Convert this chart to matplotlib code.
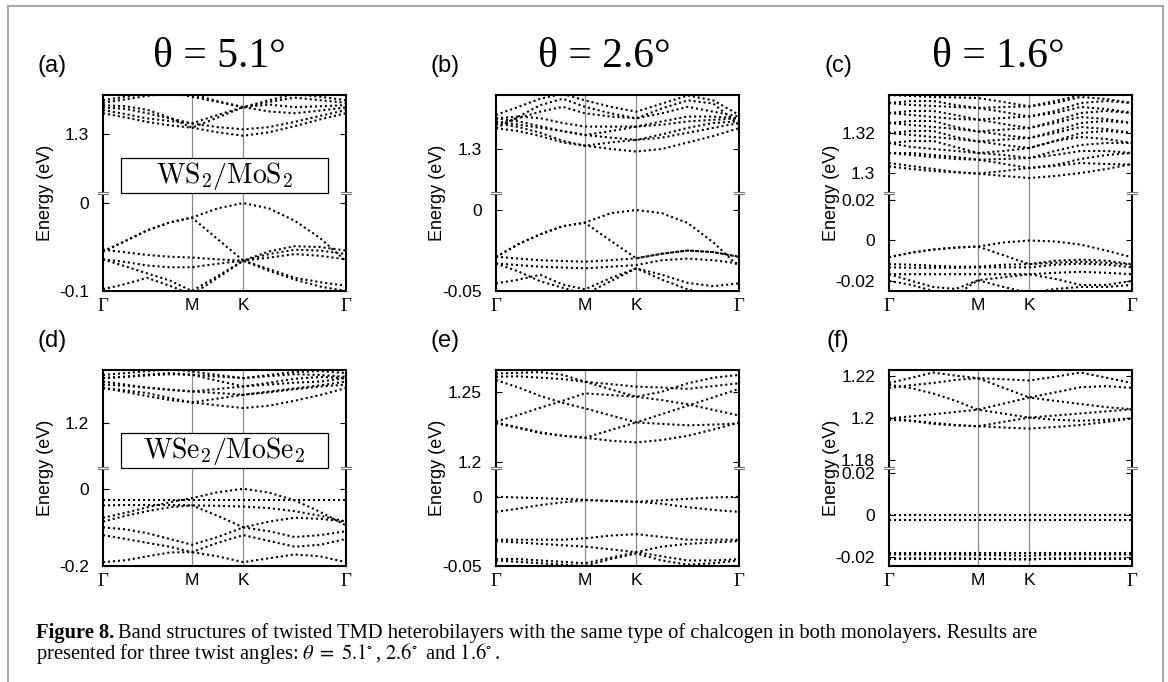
import matplotlib
matplotlib.use("Agg")
import matplotlib.pyplot as plt
from matplotlib.patches import Rectangle
from matplotlib.lines import Line2D

plt.rcParams["axes.unicode_minus"] = False

# k-path Gamma-M-K-Gamma (|GM| : |MK| : |KG| = sqrt3/2 : 1/2 : 1)
K_NODES = [0.0, 0.22, 0.43, 0.65, 0.866, 1.116, 1.366, 1.616, 1.866, 2.116, 2.366]
K_TICKS = [0.0, 0.866, 1.366, 2.366]
K_LABELS = ["Γ", "M", "K", "Γ"]
ANGLES = ["θ = 5.1°", "θ = 2.6°", "θ = 1.6°"]
TAGS = ["(a)", "(b)", "(c)", "(d)", "(e)", "(f)"]
MATERIALS = [r"$\mathrm{WS_2/MoS_2}$", r"$\mathrm{WSe_2/MoSe_2}$"]

# energies (eV) of the bands at K_NODES
A_COND = [
    [1.324, 1.319, 1.314, 1.310, 1.3073, 1.302, 1.298, 1.302, 1.309, 1.317, 1.324],
    [1.3276, 1.323, 1.318, 1.315, 1.3123, 1.308, 1.3054, 1.308, 1.314, 1.321, 1.3276],
    [1.3307, 1.329, 1.324, 1.318, 1.3123, 1.322, 1.331, 1.326, 1.324, 1.327, 1.3307],
    [1.3333, 1.332, 1.328, 1.319, 1.3073, 1.319, 1.331, 1.334, 1.331, 1.332, 1.3333],
    [1.336, 1.340, 1.344, 1.347, 1.346, 1.338, 1.331, 1.337, 1.342, 1.339, 1.336],
    [1.339, 1.343, 1.347, 1.348, 1.343, 1.337, 1.331, 1.339, 1.346, 1.343, 1.339],
]
A_VAL = [
    [-0.055, -0.043, -0.031, -0.022, -0.0165, -0.006, 0.0, -0.006, -0.020, -0.040, -0.066],
    [-0.055, -0.043, -0.031, -0.022, -0.0165, -0.041, -0.0655, -0.055, -0.049, -0.050, -0.054],
    [-0.053, -0.056, -0.059, -0.061, -0.062, -0.064, -0.0655, -0.058, -0.053, -0.054, -0.058],
    [-0.064, -0.067, -0.071, -0.073, -0.073, -0.069, -0.0655, -0.062, -0.058, -0.060, -0.064],
    [-0.064, -0.072, -0.080, -0.088, -0.100, -0.083, -0.0655, -0.077, -0.087, -0.095, -0.100],
    [-0.098, -0.092, -0.085, -0.094, -0.104, -0.085, -0.0655, -0.075, -0.085, -0.090, -0.094],
]
B_COND = [
    [1.3128, 1.311, 1.308, 1.304, 1.302, 1.300, 1.2984, 1.300, 1.304, 1.308, 1.3128],
    [1.3160, 1.3135, 1.310, 1.305, 1.302, 1.304, 1.3056, 1.307, 1.310, 1.313, 1.3160],
    [1.3170, 1.315, 1.313, 1.311, 1.3086, 1.307, 1.3056, 1.309, 1.313, 1.316, 1.3170],
    [1.3189, 1.317, 1.314, 1.311, 1.3086, 1.311, 1.3138, 1.315, 1.317, 1.318, 1.3189],
    [1.3189, 1.320, 1.319, 1.316, 1.3138, 1.3138, 1.3138, 1.317, 1.320, 1.320, 1.3189],
    [1.3150, 1.319, 1.323, 1.326, 1.322, 1.320, 1.3189, 1.322, 1.326, 1.323, 1.3200],
    [1.3128, 1.320, 1.327, 1.331, 1.326, 1.322, 1.3189, 1.325, 1.330, 1.328, 1.3150],
    [1.3210, 1.326, 1.331, 1.334, 1.330, 1.326, 1.323, 1.328, 1.333, 1.330, 1.3210],
]
B_VAL = [
    [-0.029, -0.021, -0.015, -0.010, -0.0078, -0.002, 0.0, -0.002, -0.008, -0.020, -0.035],
    [-0.029, -0.021, -0.015, -0.010, -0.0078, -0.019, -0.0298, -0.027, -0.025, -0.026, -0.029],
    [-0.0288, -0.030, -0.031, -0.0315, -0.0319, -0.031, -0.0298, -0.027, -0.025, -0.026, -0.0288],
    [-0.033, -0.034, -0.035, -0.0355, -0.036, -0.035, -0.034, -0.031, -0.030, -0.031, -0.033],
    [-0.0453, -0.043, -0.040, -0.046, -0.049, -0.042, -0.036, -0.040, -0.045, -0.047, -0.0453],
    [-0.033, -0.038, -0.044, -0.048, -0.052, -0.044, -0.036, -0.043, -0.049, -0.052, -0.050],
]
C_COND = [
    [1.3050, 1.3035, 1.3020, 1.3005, 1.2997, 1.2985, 1.2975, 1.2985, 1.3000, 1.3020, 1.3045],
    [1.3033, 1.3020, 1.3010, 1.3003, 1.2997, 1.3010, 1.3025, 1.3035, 1.3050, 1.3045, 1.3042],
    [1.3100, 1.3090, 1.3080, 1.3070, 1.3067, 1.3046, 1.3025, 1.3040, 1.3070, 1.3090, 1.3100],
    [1.3100, 1.3100, 1.3090, 1.3080, 1.3067, 1.3070, 1.3075, 1.3090, 1.3110, 1.3110, 1.3100],
    [1.3150, 1.3130, 1.3120, 1.3110, 1.3100, 1.3090, 1.3075, 1.3110, 1.3140, 1.3150, 1.3150],
    [1.3150, 1.3160, 1.3160, 1.3130, 1.3100, 1.3110, 1.3125, 1.3160, 1.3180, 1.3170, 1.3150],
    [1.3200, 1.3190, 1.3180, 1.3170, 1.3158, 1.3140, 1.3125, 1.3160, 1.3200, 1.3210, 1.3200],
    [1.3200, 1.3210, 1.3210, 1.3180, 1.3158, 1.3167, 1.3175, 1.3200, 1.3230, 1.3220, 1.3200],
    [1.3250, 1.3240, 1.3230, 1.3220, 1.3208, 1.3190, 1.3175, 1.3210, 1.3250, 1.3260, 1.3250],
    [1.3250, 1.3260, 1.3260, 1.3230, 1.3208, 1.3217, 1.3225, 1.3250, 1.3280, 1.3270, 1.3250],
    [1.3300, 1.3290, 1.3280, 1.3270, 1.3267, 1.3245, 1.3225, 1.3260, 1.3300, 1.3310, 1.3300],
    [1.3300, 1.3310, 1.3310, 1.3290, 1.3267, 1.3275, 1.3283, 1.3300, 1.3330, 1.3320, 1.3300],
    [1.3350, 1.3340, 1.3335, 1.3330, 1.3325, 1.3305, 1.3283, 1.3310, 1.3350, 1.3360, 1.3350],
    [1.3350, 1.3360, 1.3360, 1.3340, 1.3325, 1.3330, 1.3333, 1.3350, 1.3380, 1.3370, 1.3350],
    [1.3390, 1.3385, 1.3380, 1.3378, 1.3375, 1.3355, 1.3333, 1.3360, 1.3390, 1.3395, 1.3390],
]
C_VAL = [
    [-0.0083, -0.0060, -0.0045, -0.0035, -0.0030, -0.0010, 0.0, -0.0005, -0.0020, -0.0050, -0.0083],
    [-0.0083, -0.0060, -0.0045, -0.0035, -0.0030, -0.0073, -0.0117, -0.0110, -0.0105, -0.0110, -0.0120],
    [-0.0117, -0.0120, -0.0125, -0.0130, -0.0130, -0.0120, -0.0117, -0.0100, -0.0095, -0.0100, -0.0117],
    [-0.0133, -0.0135, -0.0135, -0.0135, -0.0133, -0.0133, -0.0133, -0.0120, -0.0115, -0.0120, -0.0133],
    [-0.0167, -0.0167, -0.0167, -0.0167, -0.0167, -0.0167, -0.0167, -0.0160, -0.0155, -0.0160, -0.0167],
    [-0.0167, -0.0200, -0.0230, -0.0240, -0.0197, -0.0182, -0.0167, -0.0190, -0.0220, -0.0220, -0.0200],
    [-0.0200, -0.0220, -0.0250, -0.0270, -0.0197, -0.0230, -0.0260, -0.0240, -0.0230, -0.0230, -0.0220],
]
D_COND = [
    [1.291, 1.281, 1.270, 1.260, 1.2537, 1.246, 1.239, 1.245, 1.258, 1.273, 1.291],
    [1.291, 1.285, 1.278, 1.265, 1.2537, 1.2637, 1.2736, 1.280, 1.288, 1.295, 1.300],
    [1.300, 1.297, 1.292, 1.287, 1.2822, 1.278, 1.2736, 1.282, 1.290, 1.298, 1.308],
    [1.308, 1.300, 1.292, 1.286, 1.2822, 1.2887, 1.2952, 1.300, 1.305, 1.308, 1.3169],
    [1.3169, 1.320, 1.324, 1.327, 1.3255, 1.310, 1.2952, 1.305, 1.315, 1.320, 1.3169],
    [1.3169, 1.321, 1.326, 1.330, 1.3255, 1.321, 1.3169, 1.322, 1.327, 1.325, 1.320],
    [1.325, 1.330, 1.335, 1.340, 1.334, 1.325, 1.3169, 1.325, 1.333, 1.335, 1.330],
]
D_VAL = [
    [-0.075, -0.062, -0.048, -0.035, -0.024, -0.009, 0.0, -0.010, -0.030, -0.060, -0.095],
    [-0.0286, -0.0286, -0.0286, -0.0286, -0.0286, -0.0286, -0.0286, -0.0286, -0.0286, -0.0286, -0.0286],
    [-0.043, -0.042, -0.042, -0.042, -0.043, -0.044, -0.046, -0.050, -0.058, -0.070, -0.085],
    [-0.085, -0.070, -0.058, -0.048, -0.043, -0.070, -0.100, -0.085, -0.075, -0.078, -0.085],
    [-0.100, -0.105, -0.115, -0.130, -0.145, -0.125, -0.100, -0.110, -0.125, -0.120, -0.110],
    [-0.120, -0.130, -0.140, -0.150, -0.164, -0.140, -0.120, -0.135, -0.150, -0.145, -0.130],
    [-0.190, -0.185, -0.175, -0.165, -0.164, -0.175, -0.190, -0.180, -0.170, -0.175, -0.190],
]
E_COND = [
    [1.2280, 1.2245, 1.2210, 1.2185, 1.2171, 1.2150, 1.2138, 1.2155, 1.2185, 1.2230, 1.2280],
    [1.2274, 1.2240, 1.2205, 1.2185, 1.2171, 1.2226, 1.2281, 1.2270, 1.2260, 1.2265, 1.2274],
    [1.2286, 1.2335, 1.2385, 1.2435, 1.2488, 1.2476, 1.2464, 1.2440, 1.2410, 1.2370, 1.2330],
    [1.2583, 1.2530, 1.2470, 1.2420, 1.2381, 1.2331, 1.2281, 1.2340, 1.2400, 1.2460, 1.2520],
    [1.2607, 1.2610, 1.2600, 1.2590, 1.2571, 1.2554, 1.2536, 1.2530, 1.2520, 1.2540, 1.2560],
    [1.2630, 1.2635, 1.2640, 1.2620, 1.2571, 1.2517, 1.2464, 1.2500, 1.2560, 1.2600, 1.2620],
]
E_VAL = [
    [0.0, -0.0005, -0.0010, -0.0015, -0.0022, -0.0030, -0.0036, -0.0025, -0.0015, -0.0005, 0.0],
    [-0.0109, -0.0085, -0.0060, -0.0040, -0.0025, -0.0030, -0.0036, -0.0050, -0.0075, -0.0095, -0.0109],
    [-0.031, -0.031, -0.031, -0.031, -0.030, -0.028, -0.027, -0.029, -0.031, -0.031, -0.031],
    [-0.032, -0.033, -0.034, -0.035, -0.036, -0.038, -0.040, -0.036, -0.034, -0.033, -0.032],
    [-0.045, -0.045, -0.046, -0.047, -0.048, -0.044, -0.040, -0.043, -0.046, -0.046, -0.045],
    [-0.046, -0.047, -0.048, -0.049, -0.050, -0.045, -0.041, -0.046, -0.049, -0.048, -0.046],
]
F_COND = [
    [1.1997, 1.1985, 1.1970, 1.1963, 1.1959, 1.1953, 1.1948, 1.1955, 1.1965, 1.1980, 1.1997],
    [1.1989, 1.1985, 1.1975, 1.1965, 1.1959, 1.1980, 1.2000, 1.1990, 1.1985, 1.1990, 1.1995],
    [1.1997, 1.2006, 1.2016, 1.2027, 1.2038, 1.2067, 1.2096, 1.2080, 1.2065, 1.2050, 1.2040],
    [1.2157, 1.2140, 1.2115, 1.2080, 1.2038, 1.2019, 1.2000, 1.2010, 1.2020, 1.2030, 1.2040],
    [1.2142, 1.2155, 1.2165, 1.2180, 1.2188, 1.2142, 1.2096, 1.2120, 1.2145, 1.2150, 1.2142],
    [1.2165, 1.2190, 1.2215, 1.2200, 1.2188, 1.2183, 1.2177, 1.2195, 1.2215, 1.2190, 1.2165],
]
F_VAL = [
    [0.0] * 11,
    [-0.0027] * 11,
    [-0.0184, -0.0184, -0.0184, -0.0184, -0.0184, -0.0184, -0.0184, -0.0184, -0.0184, -0.0184, -0.0184],
    [-0.0190, -0.0190, -0.0190, -0.0190, -0.0192, -0.0194, -0.0196, -0.0190, -0.0190, -0.0190, -0.0190],
    [-0.0213, -0.0213, -0.0213, -0.0213, -0.0213, -0.0213, -0.0213, -0.0213, -0.0213, -0.0213, -0.0213],
    [-0.0208, -0.0208, -0.0208, -0.0208, -0.0210, -0.0212, -0.0214, -0.0208, -0.0208, -0.0208, -0.0208],
]

COND = [A_COND, B_COND, C_COND, D_COND, E_COND, F_COND]
VAL = [A_VAL, B_VAL, C_VAL, D_VAL, E_VAL, F_VAL]
YLIM_UP = [(1.232, 1.345), (1.2728, 1.3333), (1.290, 1.339),
           (1.083, 1.338), (1.1955, 1.2655), (1.176, 1.2227)]
YLIM_LO = [(-0.1, 0.0115), (-0.05, 0.0105), (-0.025, 0.0235),
           (-0.2, 0.0538), (-0.05, 0.0208), (-0.0245, 0.0224)]
YTICKS_UP = [[1.3], [1.3], [1.3, 1.32], [1.2], [1.2, 1.25], [1.18, 1.2, 1.22]]
YTICKS_LO = [[0, -0.1], [0, -0.05], [0.02, 0, -0.02], [0, -0.2], [0, -0.05], [0.02, 0, -0.02]]

W, H = 1168, 682
COL_X = [103, 496, 889]
ROW_Y = [95, 370]
AX_W, HALF_H = 243, 98
TITLE_X = [219, 604, 998]
SANS = "Liberation Sans"
SERIF = "Liberation Serif"


def fx(x):
    return x / W


def fy(y):
    return 1 - y / H


def dots(ax, bands):
    for b in bands:
        ax.plot(K_NODES, b, color="black", lw=1.5, ls=(0, (1, 1.4)),
                dash_capstyle="butt")


def style(ax, lim, ticks):
    ax.set_xlim(0, K_TICKS[-1])
    ax.set_ylim(*lim)
    ax.set_yticks(ticks)
    ax.set_yticklabels(["%g" % t for t in ticks], fontsize=12.5, family=SANS)
    ax.tick_params(axis="y", direction="in", length=4, width=0.8, right=True, pad=10)
    for k in K_TICKS[1:3]:
        ax.axvline(k, color="#8a8a8a", lw=0.9, zorder=0)
    for s in ax.spines.values():
        s.set_linewidth(1.5)


fig = plt.figure(figsize=(W / 100, H / 100), dpi=100)

for i in range(6):
    r, c = divmod(i, 3)
    x0, y0 = COL_X[c], ROW_Y[r]
    ax_up = fig.add_axes([fx(x0), fy(y0 + HALF_H), fx(AX_W), HALF_H / H])
    ax_lo = fig.add_axes([fx(x0), fy(y0 + 2 * HALF_H), fx(AX_W), HALF_H / H])
    dots(ax_up, COND[i])
    dots(ax_lo, VAL[i])
    style(ax_up, YLIM_UP[i], YTICKS_UP[i])
    style(ax_lo, YLIM_LO[i], YTICKS_LO[i])
    ax_up.spines["bottom"].set_visible(False)
    ax_lo.spines["top"].set_visible(False)
    ax_up.set_xticks([])
    ax_lo.set_xticks(K_TICKS)
    ax_lo.set_xticklabels(K_LABELS, fontsize=12.5, family=SANS)
    for lbl in ax_lo.get_xticklabels():
        if lbl.get_text() == "Γ":
            lbl.set_family(SERIF)
            lbl.set_fontsize(13.5)
    ax_lo.tick_params(axis="x", length=0, pad=5)

    # axis break marks on both spines
    yb = y0 + HALF_H
    for xs in (x0, x0 + AX_W):
        fig.add_artist(Rectangle((fx(xs - 2), fy(yb + 1.4)), fx(4), 2.8 / H,
                                 facecolor="white", edgecolor="none", zorder=5))
        for dy in (-1.4, 1.4):
            fig.add_artist(Line2D([fx(xs - 5), fx(xs + 5)], [fy(yb + dy)] * 2,
                                  color="#777777", lw=0.8, zorder=6))

    fig.text(fx(x0 - 58), fy(yb), "Energy (eV)", rotation=90, ha="center", va="center",
             fontsize=13, family=SANS)
    fig.text(fx(x0 - 51), fy(y0 - 29), TAGS[i], ha="center", va="center",
             fontsize=17, family=SANS)

for c in range(3):
    fig.text(fx(TITLE_X[c]), fy(67), ANGLES[c], ha="center", va="baseline",
             fontsize=30, family=SERIF)

# material labels straddling the break of the left column
for r, name in enumerate(MATERIALS):
    yb = ROW_Y[r] + HALF_H
    fig.add_artist(Rectangle((fx(120.7), fy(yb + 0.3)), fx(207.6), 35 / H,
                             facecolor="white", edgecolor="black", lw=0.9, zorder=7))
    fig.text(fx(224.5), fy(yb - 17), name, ha="center", va="center", fontsize=20,
             math_fontfamily="cm", zorder=8)

# page frame
fig.add_artist(Rectangle((fx(8), fy(720)), fx(1155), 714 / H, facecolor="none",
                         edgecolor="#a8a8a8", lw=1.5, zorder=9))

# caption
rend = fig.canvas.get_renderer()
t = fig.text(fx(36), fy(638), "Figure 8.", fontsize=14.8, weight="bold",
             family=SERIF, va="baseline")
bb = t.get_window_extent(rend)
fig.text(bb.x1 / W + fx(4), fy(638),
         "Band structures of twisted TMD heterobilayers with the same type of chalcogen "
         "in both monolayers. Results are",
         fontsize=14.8, family=SERIF, va="baseline")
fig.text(fx(36), fy(659),
         r"presented for three twist angles: $\theta\;=\;5.1^{\circ}\,$, $2.6^{\circ}\,$ and $1.6^{\circ}\,$.",
         fontsize=14.8, family=SERIF, va="baseline", math_fontfamily="stix")

fig.savefig("out.png", dpi=100)
